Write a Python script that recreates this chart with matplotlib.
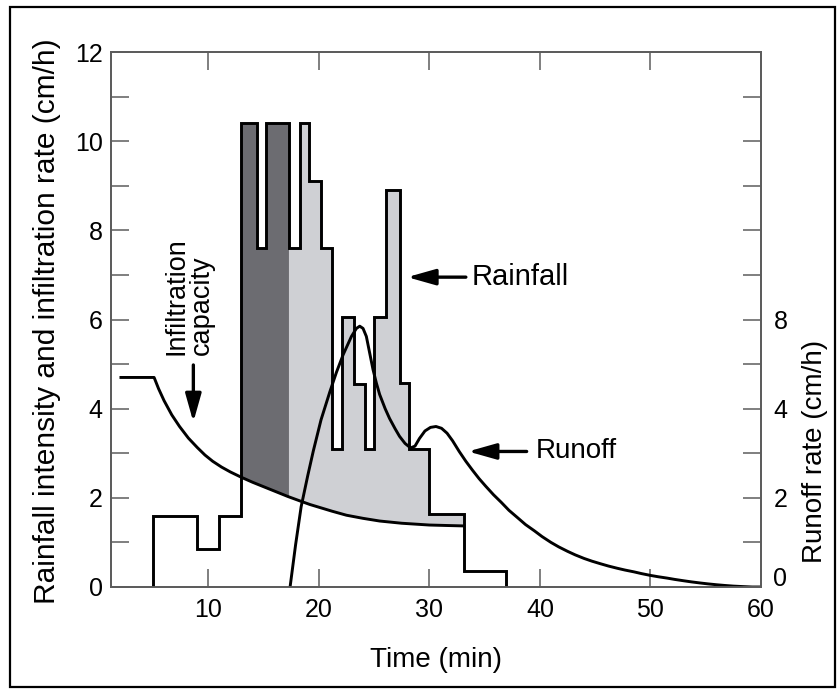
import matplotlib.pyplot as plt
import numpy as np
from matplotlib.patches import Rectangle
from matplotlib.transforms import ScaledTranslation

plt.rcParams["font.family"] = ["Liberation Sans", "DejaVu Sans"]

# rainfall hyetograph: step edges (min) and intensity (cm/h)
rain_edges = [5.0, 9.0, 11.0, 13.0, 14.4, 15.2, 17.3, 18.3, 19.1, 20.2, 21.2,
              22.1, 23.2, 24.2, 25.0, 26.1, 27.35, 28.2, 30.0, 33.1, 36.9]
rain_rate = [1.6, 0.85, 1.6, 10.4, 7.6, 10.4, 7.6, 10.4, 9.1, 7.6, 3.1,
             6.05, 4.55, 3.1, 6.05, 8.9, 4.57, 3.1, 1.63, 0.37]

# infiltration capacity curve
infil_time = [2.1, 5.1, 5.5, 6.0, 6.7, 7.4, 8.2, 9.0, 9.7, 10.4, 11.2, 12.0,
              13.0, 14.0, 15.1, 16.1, 17.2, 18.3, 19.2, 20.0, 21.2, 22.5,
              24.0, 25.5, 27.5, 30.0, 31.5, 33.1]
infil_rate = [4.70, 4.70, 4.45, 4.18, 3.86, 3.60, 3.34, 3.13, 2.96, 2.82,
              2.69, 2.58, 2.46, 2.35, 2.24, 2.14, 2.03, 1.93, 1.85, 1.79,
              1.70, 1.61, 1.54, 1.48, 1.43, 1.39, 1.38, 1.37]

# runoff hydrograph
runoff_time = [17.4, 17.9, 18.4, 19.0, 19.5, 20.2, 21.0, 21.6, 22.2, 22.95,
               23.4, 23.7, 24.0, 24.3, 24.6, 24.9, 25.2, 25.5, 26.0, 26.4,
               26.9, 27.3, 27.8, 28.3, 28.7, 29.1, 29.6, 30.1, 30.6, 31.1,
               31.6, 32.1, 32.7, 33.3, 33.9, 34.5, 35.1, 35.8, 36.5, 37.2,
               38.0, 38.7, 39.5, 40.2, 41.0, 41.7, 42.5, 43.2, 44.0, 44.7,
               45.5, 46.2, 47.0, 47.7, 48.5, 49.2, 50.0, 50.7, 51.5, 52.2,
               53.0, 53.7, 54.5, 55.2, 56.0, 56.7, 57.5, 58.3, 59.2, 60.0]
runoff_rate = [0.0, 0.95, 1.8, 2.5, 3.05, 3.75, 4.38, 4.82, 5.21, 5.62,
               5.80, 5.85, 5.80, 5.62, 5.25, 4.88, 4.58, 4.32, 4.00, 3.78,
               3.55, 3.38, 3.22, 3.12, 3.16, 3.33, 3.50, 3.58, 3.60, 3.56,
               3.45, 3.28, 3.04, 2.82, 2.62, 2.43, 2.26, 2.07, 1.90, 1.72,
               1.55, 1.40, 1.26, 1.13, 1.00, 0.90, 0.80, 0.72, 0.64, 0.58,
               0.52, 0.47, 0.42, 0.38, 0.34, 0.30, 0.26, 0.23, 0.20, 0.17,
               0.14, 0.115, 0.09, 0.07, 0.05, 0.035, 0.02, 0.01, 0.0, 0.0]

left_ticks = list(range(0, 13))
left_labels = ["0", "", "2", "", "4", "", "6", "", "8", "", "10", "", "12"]
right_ticks = list(range(0, 12))
right_labels = ["0", "", "2", "", "4", "", "8", "", "", "", "", ""]
time_ticks = [10, 20, 30, 40, 50, 60]

DARK = "#6c6c71"
LIGHT = "#cfd0d4"
SPINE = "#5c5c5c"


def excess_polygon(start, end):
    """Polygon between the rainfall steps and the infiltration curve."""
    upper = []
    for left, right, value in zip(rain_edges[:-1], rain_edges[1:], rain_rate):
        if left >= start and right <= end:
            upper += [(left, value), (right, value)]
    inner = [t for t in infil_time if start < t < end]
    xs = np.array([start] + inner + [end])
    lower = list(zip(xs, np.interp(xs, infil_time, infil_rate)))
    return np.array(upper + lower[::-1])


fig = plt.figure(figsize=(8.4, 6.89), dpi=100)
ax = fig.add_axes([111 / 840, 1 - 587 / 689, 650 / 840, 535 / 689])

for (start, end), color in zip([(13.0, 17.3), (17.3, 33.1)], [DARK, LIGHT]):
    poly = excess_polygon(start, end)
    ax.fill(poly[:, 0], poly[:, 1], color=color, lw=0, zorder=1)

ax.stairs(rain_rate, rain_edges, baseline=0, color="black", lw=2.1, zorder=3)
ax.plot(infil_time, infil_rate, color="black", lw=2.1, zorder=4)
ax.plot(runoff_time, runoff_rate, color="black", lw=2.1, zorder=4)

arrow = dict(arrowstyle="-|>,head_length=0.85,head_width=0.24", color="black",
             lw=2.4, mutation_scale=20, shrinkA=0, shrinkB=0)
ax.annotate("", xy=(28.0, 6.95), xytext=(33.3, 6.95), arrowprops=arrow)
ax.annotate("", xy=(33.5, 3.04), xytext=(38.8, 3.04), arrowprops=arrow)
ax.annotate("", xy=(8.65, 3.70), xytext=(8.65, 4.98), arrowprops=arrow)
ax.text(33.8, 6.95, "Rainfall", fontsize=21, ha="left", va="center")
ax.text(39.6, 3.04, "Runoff", fontsize=20, ha="left", va="center")
ax.text(8.26, 5.2, "Infiltration\ncapacity", fontsize=19.5, rotation=90,
        ha="center", va="bottom", multialignment="left", linespacing=1.0)

ax.set_xlim(1.2, 60)
ax.set_ylim(0, 12)
ax.set_xticks(time_ticks)
ax.set_yticks(left_ticks)
ax.set_yticklabels(left_labels)
ax.tick_params(axis="both", direction="in", length=13, width=1.1, color=SPINE,
               labelsize=18, top=True)
ax.tick_params(axis="x", pad=8)
ax.tick_params(axis="y", pad=6)

ax2 = ax.twinx()
ax2.set_ylim(0, 12)
ax2.set_yticks(right_ticks)
ax2.set_yticklabels(right_labels)
ax2.tick_params(axis="y", direction="in", length=13, width=1.1, color=SPINE,
                labelsize=18, pad=9)
zero_label = ax2.get_yticklabels()[0]
zero_label.set_transform(zero_label.get_transform()
                         + ScaledTranslation(0, 10 / 100, fig.dpi_scale_trans))

for axis in (ax, ax2):
    for spine in axis.spines.values():
        spine.set_color(SPINE)
        spine.set_linewidth(1.3)

fig.text(47 / 840, 1 - 321 / 689, "Rainfall intensity and infiltration rate (cm/h)",
         rotation=90, ha="center", va="center", fontsize=21.5)
fig.text(815 / 840, 1 - 451 / 689, "Runoff rate (cm/h)",
         rotation=90, ha="center", va="center", fontsize=20)
fig.text(436 / 840, 1 - 660 / 689, "Time (min)", ha="center", va="center",
         fontsize=20)

fig.patches.append(Rectangle((10 / 840, 2 / 689), 825 / 840, 680 / 689,
                             transform=fig.transFigure, fill=False,
                             edgecolor="black", lw=1.6))

fig.savefig("out.png", dpi=100)
